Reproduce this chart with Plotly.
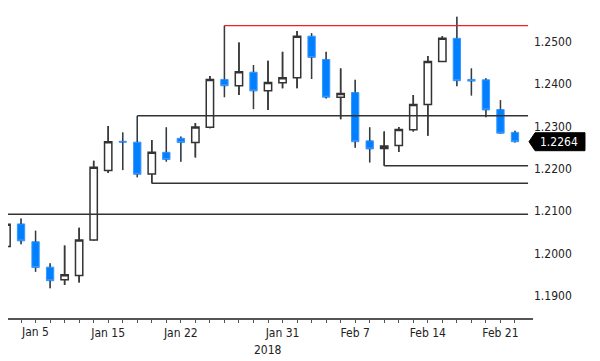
import plotly.graph_objects as go

# ---- data (EUR/USD daily candles) ----
dates = ["2018-01-04", "2018-01-05", "2018-01-08", "2018-01-09", "2018-01-10", "2018-01-11",
         "2018-01-12", "2018-01-15", "2018-01-16", "2018-01-17", "2018-01-18", "2018-01-19",
         "2018-01-22", "2018-01-23", "2018-01-24", "2018-01-25", "2018-01-26", "2018-01-29",
         "2018-01-30", "2018-01-31", "2018-02-01", "2018-02-02", "2018-02-05", "2018-02-06",
         "2018-02-07", "2018-02-08", "2018-02-09", "2018-02-12", "2018-02-13", "2018-02-14",
         "2018-02-15", "2018-02-16", "2018-02-19", "2018-02-20", "2018-02-21", "2018-02-22"]

opens = [1.2017, 1.2070, 1.2028, 1.1968, 1.1938, 1.1948, 1.2032, 1.2196, 1.2265, 1.2263,
         1.2188, 1.2239, 1.2272, 1.2262, 1.2298, 1.2411, 1.2396, 1.2428, 1.2384, 1.2403,
         1.2415, 1.2513, 1.2458, 1.2369, 1.2380, 1.2266, 1.2248, 1.2255, 1.2292, 1.2352,
         1.2453, 1.2508, 1.2411, 1.2410, 1.2340, 1.2286]
highs = [1.2088, 1.2083, 1.2054, 1.1977, 1.2019, 1.2061, 1.2219, 1.2301, 1.2286, 1.2325,
         1.2268, 1.2298, 1.2276, 1.2308, 1.2419, 1.2538, 1.2498, 1.2445, 1.2455, 1.2476,
         1.2525, 1.2520, 1.2476, 1.2437, 1.2410, 1.2298, 1.2288, 1.2299, 1.2374, 1.2466,
         1.2513, 1.2559, 1.2437, 1.2414, 1.2362, 1.2290]
lows = [1.2004, 1.2022, 1.1957, 1.1918, 1.1926, 1.1932, 1.2030, 1.2190, 1.2197, 1.2180,
        1.2166, 1.2217, 1.2217, 1.2227, 1.2296, 1.2369, 1.2374, 1.2341, 1.2339, 1.2390,
        1.2390, 1.2412, 1.2366, 1.2317, 1.2250, 1.2215, 1.2207, 1.2240, 1.2288, 1.2278,
        1.2452, 1.2395, 1.2373, 1.2322, 1.2283, 1.2262]
closes = [1.2069, 1.2030, 1.1967, 1.1936, 1.1950, 1.2032, 1.2204, 1.2264, 1.2263, 1.2187,
          1.2239, 1.2222, 1.2262, 1.2299, 1.2411, 1.2396, 1.2429, 1.2384, 1.2404, 1.2415,
          1.2513, 1.2463, 1.2369, 1.2378, 1.2264, 1.2247, 1.2254, 1.2293, 1.2352, 1.2453,
          1.2508, 1.2408, 1.2407, 1.2339, 1.2284, 1.2264]

# x-axis labels (date -> text)
x_labels = {"2018-01-15": "Jan 15", "2018-01-22": "Jan 22",
            "2018-01-31": "Jan 31", "2018-02-07": "Feb 7", "2018-02-14": "Feb 14",
            "2018-02-21": "Feb 21"}
first_label = ("2018-01-05", "Jan 5")   # drawn slightly right of its tick, as in the source
year_label = "2018"

# right-axis ticks
y_ticks = [1.19, 1.20, 1.21, 1.22, 1.23, 1.24, 1.25]

# support / resistance lines: (start date, which extreme, colour)
level_lines = [("2018-01-17", "high", "#333333"),
               ("2018-01-18", "low", "#333333"),
               ("2018-01-25", "high", "#ee2222"),
               ("2018-02-09", "low", "#333333")]
full_width_level = 1.2093

# ---- styling ----
FONT = "DejaVu Sans Condensed, DejaVu Sans, sans-serif"
BLUE = "#0080ff"
BLUE_EDGE = "#3a97ff"
WICK = "#3a3a3a"

fig = go.Figure()

fig.add_trace(go.Candlestick(
    x=dates, open=opens, high=highs, low=lows, close=closes,
    increasing=dict(fillcolor="white", line=dict(color="#333333", width=1.5)),
    decreasing=dict(fillcolor=BLUE, line=dict(color=BLUE_EDGE, width=1)),
    whiskerwidth=0, hoverinfo="skip", showlegend=False))

# wicks drawn above/below bodies in dark grey
wx, wy = [], []
for d, o, h, l, c in zip(dates, opens, highs, lows, closes):
    top, bot = max(o, c), min(o, c)
    wx += [d, d, None, d, d, None]
    wy += [h, top, None, bot, l, None]
fig.add_trace(go.Scatter(x=wx, y=wy, mode="lines", line=dict(color=WICK, width=1.5),
                         hoverinfo="skip", showlegend=False, connectgaps=False))

n = len(dates)
x_end = n - 0.1
for start, kind, col in level_lines:
    i = dates.index(start)
    lvl = highs[i] if kind == "high" else lows[i]
    fig.add_shape(type="line", xref="x", yref="y", x0=i, x1=x_end, y0=lvl, y1=lvl,
                  line=dict(color=col, width=1.5 if col != "#ee2222" else 1.2), layer="above")
fig.add_shape(type="line", xref="x", yref="y", x0=-0.5, x1=x_end,
              y0=full_width_level, y1=full_width_level,
              line=dict(color="#333333", width=1.5), layer="above")

# last price tag
last = closes[-1]
hh = 0.00212
path = (f"M 0.9924,{last} L 1.004,{last + hh} L 1.099,{last + hh} "
        f"L 1.099,{last - hh} L 1.004,{last - hh} Z")
fig.add_shape(type="path", xref="paper", yref="y", path=path,
              fillcolor="black", line=dict(color="black", width=1), layer="above")
fig.add_annotation(xref="paper", yref="y", x=1.0095, y=last, text=f"{last:.4f}",
                   showarrow=False, xanchor="left", yanchor="middle",
                   font=dict(family=FONT, size=12, color="white"))

fig.add_annotation(xref="paper", yref="paper", x=0.495, y=-0.104, text=year_label,
                   showarrow=False, xanchor="center", yanchor="middle",
                   font=dict(family=FONT, size=12, color="#222222"))

# first date label, nudged right of its tick
fig.add_annotation(xref="x", yref="paper", x=first_label[0], y=-0.044, xshift=14,
                   text=first_label[1], showarrow=False, xanchor="center", yanchor="middle",
                   font=dict(family=FONT, size=12, color="#222222"))

tick_text = [x_labels.get(d, "") for d in dates]

fig.update_layout(
    width=600, height=361,
    margin=dict(l=8, r=67, t=10, b=43, autoexpand=False),
    paper_bgcolor="white", plot_bgcolor="white",
    font=dict(family=FONT, size=12, color="#222222"),
    boxgap=0.28,
    showlegend=False,
    xaxis=dict(type="category", range=[0.103, 36.24], tickvals=dates, ticktext=tick_text,
               ticks="outside", ticklen=3, tickcolor="#555555", tickwidth=1,
               showline=True, linecolor="#555555", linewidth=1.5,
               showgrid=False, zeroline=False, tickangle=0, automargin=False,
               rangeslider=dict(visible=False),
               tickfont=dict(family=FONT, size=12, color="#222222")),
    yaxis=dict(side="right", range=[1.1848, 1.25748], tickvals=y_ticks,
               ticktext=[f"{v:.4f}" for v in y_ticks], automargin=False,
               showgrid=False, zeroline=False, showline=False, ticks="",
               tickfont=dict(family=FONT, size=12, color="#222222")),
)

fig.write_html("out.html", config={"displayModeBar": False, "staticPlot": True},
               post_script="document.body.style.margin='0px';")
